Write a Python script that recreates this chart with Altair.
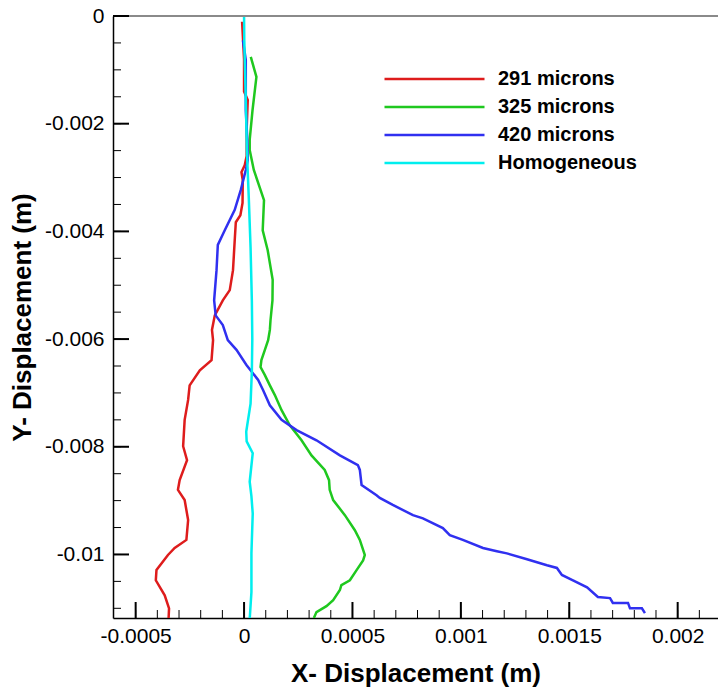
import altair as alt
import pandas as pd
import numpy as np

# ---------------- data ----------------
series_names = ["291 microns", "325 microns", "420 microns", "Homogeneous"]
series_colors = ["#de1c1c", "#1fc81f", "#3030f0", "#00eeee"]

x_291 = [-0.000009, 0.0, 0.0, 0.000017, 0.000012, 0.000012, 0.000003, -0.000012,
         -0.000006, -0.000007, -0.000017, -0.000038, -0.000043, -0.000051, -0.000066,
         -0.000098, -0.000135, -0.000148, -0.000143, -0.00015, -0.000204, -0.000251,
         -0.000258, -0.000274, -0.000281, -0.000263, -0.000297, -0.000305, -0.000274,
         -0.000258, -0.000266, -0.00032, -0.000351, -0.000404, -0.000407, -0.000366,
         -0.000346, -0.000348]
y_291 = [-0.000106, -0.0008, -0.0014, -0.00156, -0.0021, -0.0026, -0.00277, -0.0029,
         -0.003047, -0.00347, -0.0037, -0.00383, -0.00416, -0.00472, -0.00509,
         -0.00528, -0.00556, -0.00583, -0.00602, -0.00639, -0.00658, -0.00686,
         -0.00713, -0.0075, -0.00799, -0.00825, -0.00862, -0.0088, -0.00899,
         -0.00936, -0.00973, -0.00988, -0.01001, -0.01029, -0.01048, -0.01076,
         -0.011, -0.01118]

x_325 = [0.000031, 0.000057, 0.000039, 0.000026, 0.000026, 0.000045, 0.000092, 0.000086,
         0.000109, 0.000132, 0.000131, 0.000122, 0.000119, 0.000111, 0.000096, 0.00008,
         0.000076, 0.000096, 0.000119, 0.000142, 0.000173, 0.000211, 0.000265, 0.000311,
         0.000372, 0.000392, 0.000395, 0.000411, 0.000465, 0.000511, 0.000534, 0.000557,
         0.000549, 0.000519, 0.000488, 0.000449, 0.000442, 0.000411, 0.00038, 0.000334,
         0.000322]
y_325 = [-0.00076, -0.00113, -0.00175, -0.0023, -0.00249, -0.00286, -0.00342, -0.00398,
         -0.00435, -0.0049, -0.00528, -0.00565, -0.00583, -0.00602, -0.0062, -0.00639,
         -0.00652, -0.00667, -0.00686, -0.00704, -0.00732, -0.0076, -0.00788, -0.00816,
         -0.00843, -0.00862, -0.0088, -0.00899, -0.00927, -0.00955, -0.00973, -0.01001,
         -0.01011, -0.01029, -0.01048, -0.01057, -0.01066, -0.01085, -0.01096, -0.01107,
         -0.01118]

x_420 = [-0.000005, 0.000008, 0.000008, 0.000015, 0.000017, 0.000008, -0.000015, -0.000043,
         -0.000089, -0.000121, -0.000127, -0.000138, -0.000131, -0.000098, -0.000075,
         -0.000035, 0.000011, 0.000065, 0.000088, 0.000119, 0.000173, 0.000242, 0.000334,
         0.000442, 0.000525, 0.000534, 0.000542, 0.000611, 0.000626, 0.000686, 0.000779,
         0.000825, 0.000917, 0.000949, 0.001009, 0.001102, 0.001166, 0.001212, 0.001305,
         0.001397, 0.001443, 0.001466, 0.001517, 0.001582, 0.001632, 0.001688, 0.001701,
         0.001771, 0.00178, 0.001835, 0.001849]
y_420 = [-0.00045, -0.00082, -0.00175, -0.0023, -0.00268, -0.00286, -0.00323, -0.0036,
         -0.00398, -0.00425, -0.00472, -0.00528, -0.00556, -0.00574, -0.00602, -0.0062,
         -0.00648, -0.00676, -0.00695, -0.00723, -0.0075, -0.00769, -0.00788, -0.00816,
         -0.00834, -0.00843, -0.00871, -0.0089, -0.00895, -0.00908, -0.00927, -0.00933,
         -0.00951, -0.00964, -0.00973, -0.00988, -0.00994, -0.00998, -0.01009, -0.0102,
         -0.01025, -0.01038, -0.01048, -0.01061, -0.01079, -0.01081, -0.0109, -0.0109,
         -0.011, -0.011, -0.01109]

x_hom = [0.0, 0.000001, 0.000008, 0.000013, 0.000022, 0.00003, 0.000036, 0.000038, 0.000036,
         0.00003, 0.00001, 0.000012, 0.00004, 0.000026, 0.000034, 0.00004, 0.000034,
         0.000034, 0.000026]
y_hom = [0.0, -0.00045, -0.00156, -0.0025, -0.0034, -0.0043, -0.0053, -0.006, -0.0066,
         -0.0072, -0.00772, -0.0079, -0.00812, -0.00865, -0.00892, -0.00924, -0.00998,
         -0.0107, -0.0112]

# axis ticks
x_major = [-0.0005, 0.0, 0.0005, 0.001, 0.0015, 0.002]
y_major = [0.0, -0.002, -0.004, -0.006, -0.008, -0.01]
x_minor = [round(v, 4) for v in np.arange(-0.0005, 0.00215, 0.0001)]
y_minor = [round(v, 4) for v in np.arange(0.0, -0.01125, -0.0005)]

# ---------------- build table ----------------
rows = []
for name, xs, ys in zip(series_names, [x_291, x_325, x_420, x_hom], [y_291, y_325, y_420, y_hom]):
    for i, (xv, yv) in enumerate(zip(xs, ys)):
        rows.append({"series": name, "i": i, "x": xv, "y": yv})
df = pd.DataFrame(rows)

W, H = 605, 602
xscale = alt.Scale(domain=[-0.0006045, 0.002186], nice=False, zero=False)
yscale = alt.Scale(domain=[-0.01118, 0.0], nice=False, zero=False)

FONT = "Liberation Sans"
label_expr = "'' + datum.value"

x_axis = alt.Axis(values=x_major, ticks=False, grid=False, labelExpr=label_expr,
                  labelFont=FONT, labelFontSize=21, labelColor="black",
                  labelPadding=7, labelFlush=False,
                  domainColor="black", domainWidth=1.5,
                  title="X- Displacement (m)", titleFont=FONT, titleFontSize=26,
                  titleFontWeight="bold", titleColor="black", titlePadding=14)
y_axis = alt.Axis(values=y_major, ticks=False, grid=False, labelExpr=label_expr,
                  labelFont=FONT, labelFontSize=21, labelColor="black",
                  labelPadding=9, labelFlush=False,
                  domainColor="black", domainWidth=1.5,
                  title="Y- Displacement (m)", titleFont=FONT, titleFontSize=26,
                  titleFontWeight="bold", titleColor="black", titlePadding=9)

lines = alt.Chart(df).mark_line(strokeWidth=2.5, clip=True).encode(
    x=alt.X("x:Q", scale=xscale, axis=x_axis),
    y=alt.Y("y:Q", scale=yscale, axis=y_axis),
    color=alt.Color("series:N",
                    scale=alt.Scale(domain=series_names, range=series_colors),
                    legend=alt.Legend(orient="none", legendX=270, legendY=49, title=None,
                                      symbolType="stroke", symbolSize=10000,
                                      symbolStrokeWidth=2.5, clipHeight=28, rowPadding=0,
                                      labelFont=FONT, labelFontSize=20, labelFontWeight="bold",
                                      labelColor="black", labelOffset=12, padding=0)),
    order=alt.Order("i:Q"),
)

ydf_major = pd.DataFrame({"y": y_major})
ydf_minor = pd.DataFrame({"y": y_minor})
xdf_major = pd.DataFrame({"x": x_major})
xdf_minor = pd.DataFrame({"x": x_minor})

y_major_ticks = alt.Chart(ydf_major).mark_rule(color="black", strokeWidth=2).encode(
    y=alt.Y("y:Q", scale=yscale, axis=y_axis), x=alt.value(0), x2=alt.value(16))
y_minor_ticks = alt.Chart(ydf_minor).mark_rule(color="black", strokeWidth=1).encode(
    y=alt.Y("y:Q", scale=yscale, axis=y_axis), x=alt.value(0), x2=alt.value(8))
x_major_ticks = alt.Chart(xdf_major).mark_rule(color="black", strokeWidth=2).encode(
    x=alt.X("x:Q", scale=xscale, axis=x_axis), y=alt.value(H - 16), y2=alt.value(H))
x_minor_ticks = alt.Chart(xdf_minor).mark_rule(color="black", strokeWidth=1).encode(
    x=alt.X("x:Q", scale=xscale, axis=x_axis), y=alt.value(H - 8), y2=alt.value(H))

top_line = alt.Chart(pd.DataFrame({"k": [0]})).mark_rule(color="#8a8a8a", strokeWidth=2).encode(
    x=alt.value(0), x2=alt.value(W), y=alt.value(0))

chart = alt.layer(
    lines, top_line, y_minor_ticks, y_major_ticks, x_minor_ticks, x_major_ticks
).properties(
    width=W, height=H,
    autosize=alt.AutoSizeParams(type="none"),
    padding={"left": 113, "top": 16, "right": 0, "bottom": 78},
    background="white",
).configure_view(stroke=None)

chart.save("out.html", embed_options={"renderer": "svg", "actions": False})
